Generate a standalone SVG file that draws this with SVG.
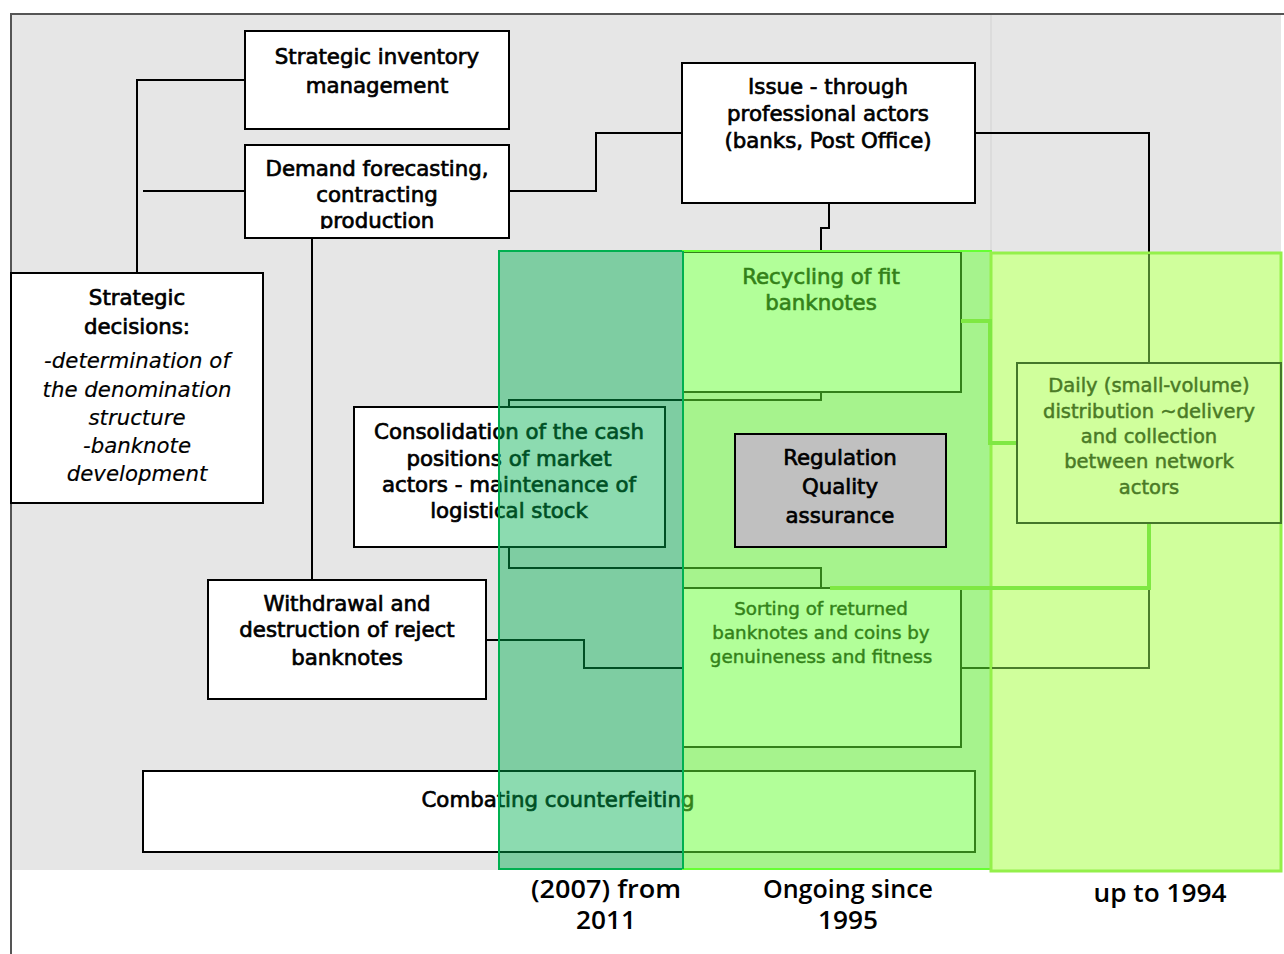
<svg xmlns="http://www.w3.org/2000/svg" width="1284" height="954" viewBox="0 0 1284 954">
<defs>
<style>
.box{fill:#fff;stroke:#000;stroke-width:2}
.t{font-family:"DejaVu Sans","Verdana",sans-serif;font-size:21.3px;text-anchor:middle;fill:#000;stroke:#000;stroke-width:0.7}
.s{font-size:18.3px;stroke-width:0.5}
.d{font-size:19.5px;stroke-width:0.5}
.i{font-style:italic;stroke-width:0.15}
.c{fill:none;stroke:#000;stroke-width:2}
.ol{fill:none;stroke:#4b7d2c;stroke-width:2}
.br{fill:none;stroke:#7fe843;stroke-width:4}
.dl{fill:#4a7a26;stroke:#4a7a26}
.lab{font-family:"Open Sans","Liberation Sans",sans-serif;font-weight:600;font-size:25px;text-anchor:middle;fill:#000}
</style>
<clipPath id="clipDemand"><rect x="245" y="145" width="264" height="84"/></clipPath>
<clipPath id="clipStrat"><rect x="11" y="273" width="252" height="227"/></clipPath>
</defs>

<!-- background and frame -->
<rect x="11" y="14" width="1270" height="856" fill="#e6e6e6"/>
<line x1="991" y1="14" x2="991" y2="253" stroke="#d2d2d2" stroke-width="1"/>
<line x1="10" y1="14" x2="1284" y2="14" stroke="#555" stroke-width="2"/>
<line x1="11" y1="14" x2="11" y2="954" stroke="#555" stroke-width="2"/>

<g id="connectors">
<path class="c" d="M245,80 H137 V273"/>
<path class="c" d="M143,191 H245"/>
<path class="c" d="M312,239 V580"/>
<path class="c" d="M509,191 H596 V133 H682"/>
<path class="c" d="M829,203 V228 H821 V252"/>
<path class="c" d="M975,133 H1149 V253"/>
<path class="c" d="M821,392 V400 H509 V568 H821 V588"/>
<path class="c" d="M486,640 H584 V668 H683"/>
<path class="c" d="M961,668 H991"/>
</g>

<g id="node-inventory">
<rect class="box" x="245" y="31" width="264" height="98"/>
<text class="t" x="377" y="64">Strategic inventory</text>
<text class="t" x="377" y="93">management</text>
</g>

<g id="node-demand">
<rect class="box" x="245" y="145" width="264" height="93"/>
<g clip-path="url(#clipDemand)">
<text class="t" x="377" y="176">Demand forecasting,</text>
<text class="t" x="377" y="202">contracting</text>
<text class="t" x="377" y="228">production</text>
</g>
</g>

<g id="node-issue">
<rect class="box" x="682" y="63" width="293" height="140"/>
<text class="t" x="828" y="94">Issue - through</text>
<text class="t" x="828" y="121">professional actors</text>
<text class="t" x="828" y="148">(banks, Post Office)</text>
</g>

<g id="node-strategic">
<rect class="box" x="11" y="273" width="252" height="230"/>
<g clip-path="url(#clipStrat)">
<text class="t" x="137" y="305">Strategic</text>
<text class="t" x="137" y="334">decisions:</text>
<text class="t i" x="137" y="368">-determination of</text>
<text class="t i" x="137" y="397">the denomination</text>
<text class="t i" x="137" y="425">structure</text>
<text class="t i" x="137" y="453">-banknote</text>
<text class="t i" x="137" y="481">development</text>
</g>
</g>

<g id="node-consolidation">
<rect class="box" x="354" y="407" width="311" height="140"/>
<text class="t" x="509" y="439">Consolidation of the cash</text>
<text class="t" x="509" y="466">positions of market</text>
<text class="t" x="509" y="492">actors - maintenance of</text>
<text class="t" x="509" y="518">logistical stock</text>
</g>

<g id="node-withdrawal">
<rect class="box" x="208" y="580" width="278" height="119"/>
<text class="t" x="347" y="611">Withdrawal and</text>
<text class="t" x="347" y="637">destruction of reject</text>
<text class="t" x="347" y="665">banknotes</text>
</g>

<g id="node-combating">
<rect class="box" x="143" y="771" width="832" height="81"/>
<text class="t" x="558" y="807">Combating counterfeiting</text>
</g>

<g id="node-recycling">
<rect class="box" x="683" y="252" width="278" height="140"/>
<text class="t" x="821" y="284">Recycling of fit</text>
<text class="t" x="821" y="310">banknotes</text>
</g>

<g id="node-sorting">
<rect class="box" x="683" y="588" width="278" height="159"/>
<text class="t s" x="821" y="615">Sorting of returned</text>
<text class="t s" x="821" y="639">banknotes and coins by</text>
<text class="t s" x="821" y="663">genuineness and fitness</text>
</g>

<!-- period columns -->
<g id="col-2011">
<rect x="499" y="251" width="184" height="618" fill="#00b050" fill-opacity="0.45" stroke="#00b050" stroke-width="2"/>
</g>
<g id="col-1995">
<rect x="683" y="251" width="308" height="618" fill="#66ff33" fill-opacity="0.5" stroke="#66ff33" stroke-width="2"/>
<line x1="683" y1="251" x2="683" y2="869" stroke="#00b050" stroke-width="2"/>
</g>
<g id="col-1994">
<rect x="991" y="253" width="290" height="618" fill="#d0ff9c" stroke="#94f04a" stroke-width="3"/>
</g>

<g id="connectors-upper">
<path class="ol" d="M1149,254 V363"/>
<path class="ol" d="M992,668 H1149 V588"/>
<path class="br" d="M961,321 H990 V443 H1017"/>
<path class="br" d="M1149,523 V588 H830"/>
</g>

<g id="node-daily">
<rect x="1017" y="363" width="264" height="160" fill="none" stroke="#44772a" stroke-width="2"/>
<text class="t d dl" x="1149" y="392">Daily (small-volume)</text>
<text class="t d dl" x="1149" y="418">distribution ~delivery</text>
<text class="t d dl" x="1149" y="443">and collection</text>
<text class="t d dl" x="1149" y="468">between network</text>
<text class="t d dl" x="1149" y="494">actors</text>
</g>

<g id="node-regulation">
<rect x="735" y="434" width="211" height="113" fill="#c0c0c0" stroke="#000" stroke-width="2"/>
<text class="t" x="840" y="465">Regulation</text>
<text class="t" x="840" y="494">Quality</text>
<text class="t" x="840" y="523">assurance</text>
</g>

<g id="labels">
<text class="lab" x="606" y="898" textLength="150" lengthAdjust="spacingAndGlyphs">(2007) from</text>
<text class="lab" x="606" y="929" textLength="60" lengthAdjust="spacingAndGlyphs">2011</text>
<text class="lab" x="848" y="898" textLength="170" lengthAdjust="spacingAndGlyphs">Ongoing since</text>
<text class="lab" x="848" y="929" textLength="60" lengthAdjust="spacingAndGlyphs">1995</text>
<text class="lab" x="1160" y="902" textLength="133" lengthAdjust="spacingAndGlyphs">up to 1994</text>
</g>
</svg>
